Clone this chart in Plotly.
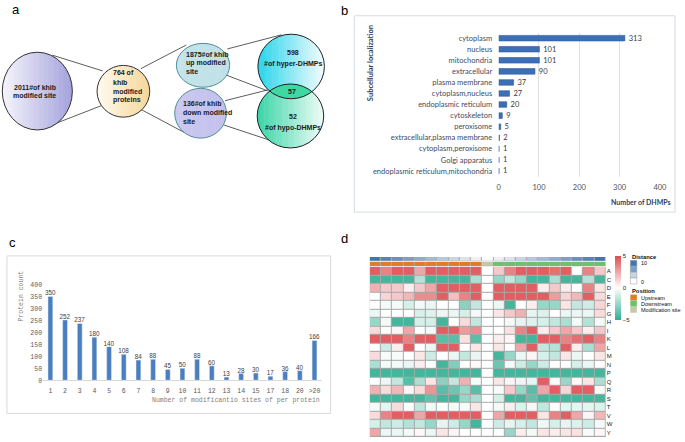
import math
import plotly.graph_objects as go

W, H = 685, 442

# ---------------- data ----------------
# panel a (flow / venn numbers)
khib_sites_total = 2011
khib_proteins = 764
khib_up_sites = 1875
khib_down_sites = 136
hyper_dhmps = 598
overlap_dhmps = 57
hypo_dhmps = 52

# panel b
localizations = ["cytoplasm", "nucleus", "mitochondria", "extracellular", "plasma membrane",
                 "cytoplasm,nucleus", "endoplasmic reticulum", "cytoskeleton", "peroxisome",
                 "extracellular,plasma membrane", "cytoplasm,peroxisome", "Golgi apparatus",
                 "endoplasmic reticulum,mitochondria"]
dhmp_counts = [313, 101, 101, 90, 37, 27, 20, 9, 5, 2, 1, 1, 1]
b_ticks = [0, 100, 200, 300, 400]

# panel c
site_bins = ["1", "2", "3", "4", "5", "6", "7", "8", "9", "10", "11", "12", "13", "14", "15",
             "17", "18", "20", ">20"]
protein_counts = [350, 252, 237, 180, 140, 108, 84, 88, 45, 50, 88, 60, 13, 28, 30, 17, 36, 40, 166]
c_ticks = [0, 50, 100, 150, 200, 250, 300, 350, 400]

# panel d
residues = ["A", "C", "D", "E", "F", "G", "H", "I", "K", "L", "M", "N", "P", "Q", "R", "S", "T", "V", "W", "Y"]
column_ids = [-10, -9, -8, -7, -6, -5, -4, -3, -2, -1, 0, 1, 2, 3, 4, 5, 6, 7, 8, 9, 10]
distances = [10, 9, 8, 7, 6, 5, 4, 3, 2, 1, 0, 1, 2, 3, 4, 5, 6, 7, 8, 9, 10]
position_codes = [0, 0, 0, 0, 0, 0, 0, 0, 0, 0, 1, 2, 2, 2, 2, 2, 2, 2, 2, 2, 2]
position_names = ["Upstream", "Modification site", "Downstream"]
heat_values = [
    [4.5, 3.5, 4.5, 4.5, 2.5, 4.5, 4.5, 4.5, 4.5, 4.5, 0, 1.5, 3.5, 4.5, 4.5, 4.5, 4.0, 4.5, 0.0, 3.5, 1.5],
    [-4.5, -4.5, -4.5, -4.5, -1.8, -4.5, -4.5, -4.5, -4.5, -2.0, 0, -2.5, -1.5, -2.5, -4.5, -4.5, -2.0, -4.5, -4.5, -1.8, -4.5],
    [2.2, 1.5, 1.5, 0.5, 1.5, 2.5, 4.5, 4.5, 4.5, 4.5, 0, 4.5, 4.5, 4.5, 4.5, 0.5, 1.5, 0.5, 0.0, 3.5, 0.7],
    [0.0, 1.2, 1.5, 2.0, 3.2, 3.2, 4.5, 1.8, 3.5, 4.5, 0, 4.5, 4.5, 4.5, 4.5, 4.5, 2.8, 1.2, 2.0, 4.5, 1.0],
    [0.0, -0.3, -0.3, -1.0, -0.3, -0.5, 0.0, 0.0, -2.8, -1.5, 0, -0.5, -4.5, 0.0, 0.5, -2.5, -2.5, 0.7, -1.5, -1.2, 1.2],
    [-0.5, 0.0, 0.0, 0.0, -1.0, -0.8, -0.5, -0.5, -1.0, -0.3, 0, 0.7, 1.5, 2.2, -0.6, -0.8, 0.0, -0.5, -0.5, -0.5, 1.0],
    [-2.5, -0.3, -4.5, -4.5, -1.0, -1.0, -4.5, 0.0, 1.0, -1.5, 0, 0.0, -0.3, -0.6, -0.8, -1.0, -1.5, -2.0, -0.3, -1.8, -0.3],
    [1.0, 0.0, 0.3, 2.5, 0.0, -0.3, 4.5, 4.5, 2.8, 3.2, 0, 0.0, 0.8, 3.5, 4.5, 0.5, 1.5, 2.5, 1.5, 0.5, 1.5],
    [4.5, 4.5, 4.5, 3.5, 4.5, 4.5, -4.0, -4.0, 0.8, -4.0, 0, 0.5, 0.3, -4.5, -4.5, 4.5, 4.5, 3.5, 4.0, 4.5, 3.5],
    [0.0, -1.2, 0.5, 4.5, 0.0, -0.5, 4.5, 4.5, 0.0, 0.7, 0, 0.7, 0.0, 2.5, 4.5, -1.5, -1.8, 4.5, 0.5, -2.0, 2.5],
    [1.0, -0.2, -0.2, 0.0, 0.7, -1.2, 0.0, -0.5, -1.5, -0.5, 0, -4.5, -2.5, -0.5, 0.3, -1.0, -1.5, 0.7, -0.5, 0.0, 0.7],
    [-2.0, -0.3, -0.3, -0.5, 0.5, 0.0, -4.5, -3.0, 0.0, 0.2, 0, -3.5, -0.3, -1.2, -2.5, -1.2, 0.0, 0.0, -1.0, -0.5, 0.0],
    [-4.5, -4.5, -4.5, -4.5, -4.5, -4.5, -4.5, -4.5, -4.5, -4.5, 0, -4.5, -4.5, -4.5, -4.5, -4.5, -4.5, -4.5, -4.5, -4.5, -4.5],
    [0.0, -0.5, -1.5, -4.0, -2.0, 0.7, -2.8, -1.5, 2.2, -0.2, 0, 0.7, 0.3, -0.5, -0.6, 4.5, 0.2, -2.5, 0.2, 0.7, -2.0],
    [2.2, 1.0, 2.0, 0.3, 1.0, 3.0, -4.0, -3.5, -2.5, -4.0, 0, -0.2, 1.5, -2.5, -4.0, 2.5, 4.5, 1.2, 4.5, 4.5, 0.2],
    [-4.5, -4.5, -4.5, -4.5, -4.5, -3.8, -4.5, -4.5, -2.5, -2.0, 0, -1.0, -4.5, -4.5, -3.8, -4.5, -4.5, -4.5, -4.5, -4.5, -4.5],
    [-0.3, -0.6, 1.0, 0.0, -1.5, -0.3, 0.0, -0.3, -0.2, 0.7, 0, -0.3, 0.5, -0.8, 0.3, -1.5, 0.0, -0.6, -0.6, -0.6, -0.8],
    [1.0, 3.5, 4.5, 4.5, 2.5, 4.5, 4.5, 4.5, 4.5, 4.5, 0, 2.5, 4.5, 4.5, 4.5, 0.7, 3.5, 4.5, 2.5, 0.3, 2.0],
    [-1.0, -1.5, -1.2, -1.8, -1.5, -2.5, -0.6, -1.2, -2.5, -4.5, 0, -1.2, -0.6, -1.0, -1.5, -0.4, -1.0, -0.6, -0.8, -1.2, -0.3],
    [2.5, -0.5, -0.5, -0.3, 0.2, -0.5, 0.7, 0.3, 0.0, 0.0, 0, 0.0, -2.5, 0.5, -0.3, 0.7, 0.5, 0.7, 0.8, -0.2, 0.2],
]

# ---------------- helpers ----------------
def px(x):
    return x / W


def py(y):
    return 1 - y / H


def hex2rgb(h):
    h = h.lstrip('#')
    return tuple(int(h[i:i + 2], 16) for i in (0, 2, 4))


def lerp(c0, c1, t):
    a, b = hex2rgb(c0), hex2rgb(c1)
    return 'rgb(%d,%d,%d)' % tuple(round(a[i] + (b[i] - a[i]) * t) for i in range(3))


def path_of(points):
    return 'M ' + ' L '.join('%.5f,%.5f' % (px(x), py(y)) for x, y in points) + ' Z'


def ellipse_fill(cx, cy, rx, ry, c0, c1, n=28):
    out = []
    for i in range(n):
        xa = cx - rx + 2 * rx * i / n
        xb = min(cx + rx, cx - rx + 2 * rx * (i + 1) / n + 0.5)
        top, bot = [], []
        for k in range(7):
            x = xa + (xb - xa) * k / 6
            d = ry * math.sqrt(max(0.0, 1 - ((x - cx) / rx) ** 2))
            top.append((x, cy - d))
            bot.append((x, cy + d))
        out.append(dict(type='path', xref='paper', yref='paper', path=path_of(top + bot[::-1]),
                        fillcolor=lerp(c0, c1, (i + 0.5) / n), line=dict(width=0)))
    return out


def ellipse_outline(cx, cy, rx, ry, color, width=1):
    return dict(type='circle', xref='paper', yref='paper', x0=px(cx - rx), x1=px(cx + rx),
                y0=py(cy + ry), y1=py(cy - ry), line=dict(color=color, width=width),
                fillcolor='rgba(0,0,0,0)')


def seg(x0, y0, x1, y1, color='#333333', width=0.8):
    return dict(type='line', xref='paper', yref='paper', x0=px(x0), y0=py(y0), x1=px(x1), y1=py(y1),
                line=dict(color=color, width=width))


shapes = []
ann = []

# ---------------- panel a ----------------
for s in [(51, 53, 102, 69), (43.3, 126.7, 103.3, 103.3), (140.7, 66.7, 186.7, 42.7),
          (139.3, 107.3, 185, 131.7), (228.3, 46.7, 283.3, 32.3), (227.3, 73.3, 269.3, 89.3),
          (226, 99.3, 269.3, 88.3), (225, 124, 278.3, 141.7)]:
    shapes.append(seg(*s))

big = (35.8, 89.5, 35.5, 39.5)
yel = (123, 89.7, 26.7, 26.3)
upc = (203.7, 63.3, 27, 22.3)
dnc = (201.2, 112, 26.2, 25.3)
hyp = (293, 64.5, 33.7, 32.8)
hpo = (292.3, 114.8, 33.7, 32.5)

shapes += ellipse_fill(*big, '#f6f6fc', '#a3a1dc')
shapes.append(ellipse_outline(*big, '#333333'))
shapes += ellipse_fill(*yel, '#fffaf0', '#f5d697')
shapes.append(ellipse_outline(*yel, '#333333'))
shapes += ellipse_fill(*upc, '#c4e4ea', '#bfe0e6')
shapes.append(ellipse_outline(*upc, '#4f8f98'))
shapes += ellipse_fill(*dnc, '#cac8f0', '#c3c1ec')
shapes.append(ellipse_outline(*dnc, '#4f8f98'))
shapes += ellipse_fill(*hyp, '#28d4ea', '#f4fdfe')
shapes += ellipse_fill(*hpo, '#38d5a6', '#f0fcf7')
# lens (overlap) region
cx1, cy1, rx1, ry1 = hyp
cx2, cy2, rx2, ry2 = hpo
upper, lower = [], []
xs = [min(cx1, cx2) - 34 + i * 0.25 for i in range(int(68 / 0.25) + 1)]
for x in xs:
    t1 = 1 - ((x - cx1) / rx1) ** 2
    t2 = 1 - ((x - cx2) / rx2) ** 2
    if t1 <= 0 or t2 <= 0:
        continue
    ya = cy1 + ry1 * math.sqrt(t1)
    yb = cy2 - ry2 * math.sqrt(t2)
    if yb < ya:
        upper.append((x, yb))
        lower.append((x, ya))
shapes.append(dict(type='path', xref='paper', yref='paper', path=path_of(upper + lower[::-1]),
                   fillcolor='#3fd8a4', line=dict(width=0)))
shapes.append(ellipse_outline(*hyp, '#222222'))
shapes.append(ellipse_outline(*hpo, '#222222'))

CF = "Liberation Sans Narrow, Liberation Sans, Arial"


def txt(x, y, s, size=6.5, bold=True, align='center', xanchor='center', color='#1a1a1a', family=CF,
        angle=0, yanchor='middle'):
    if bold:
        s = '<b>' + s + '</b>'
    ann.append(dict(x=px(x), y=py(y), xref='paper', yref='paper', text=s, showarrow=False,
                    xanchor=xanchor, yanchor=yanchor, align=align, textangle=angle,
                    font=dict(family=family, size=size, color=color)))


txt(33, 86, '%d#of khib' % khib_sites_total, size=7)
txt(33, 94, 'modified site', size=7)
for i, s in enumerate(['%d of' % khib_proteins, 'khib', 'modified', 'proteins']):
    txt(110, 71 + i * 9.3, s, size=7, xanchor='left')
for i, s in enumerate(['%d#of khib' % khib_up_sites, 'up modified', 'site']):
    txt(184, 52 + i * 8.7, s, size=7, xanchor='left')
for i, s in enumerate(['%d#of khib' % khib_down_sites, 'down modified', 'site']):
    txt(181.5, 102.5 + i * 8.8, s, size=7, xanchor='left')
txt(295, 50, str(hyper_dhmps), size=7)
txt(295, 61.7, '#of hyper-DHMPs', size=7)
txt(293.5, 89.5, str(overlap_dhmps), size=7)
txt(295, 115.7, str(hypo_dhmps), size=7)
txt(295, 127, '#of hypo-DHMPs', size=7)

# panel letters
LF = "Liberation Sans, Arial"
txt(13.7, 6.3, 'a', size=13, bold=False, family=LF, color='#000')
txt(346.7, 7.5, 'b', size=13, bold=False, family=LF, color='#000')
txt(11, 243, 'c', size=13, bold=False, family=LF, color='#000')
txt(347, 239.5, 'd', size=13, bold=False, family=LF, color='#000')

# ---------------- panel b ----------------
shapes.append(dict(type='rect', xref='paper', yref='paper', x0=px(357), x1=px(682), y0=py(212.5), y1=py(13),
                   line=dict(color='#d3dae6', width=1), fillcolor='rgba(0,0,0,0)'))
BF = "Lato, Carlito, Open Sans"
fig = go.Figure()
fig.add_trace(go.Bar(
    x=dhmp_counts, y=localizations, orientation='h', xaxis='x', yaxis='y',
    marker=dict(color='#3d6fb6', line=dict(color='#2d5a9c', width=0.6)), width=0.5,
    text=['\u00a0\u00a0' + str(v) for v in dhmp_counts], textposition='outside', cliponaxis=False,
    constraintext='none',
    textfont=dict(family=BF, size=7.5, color='#3a3a3a'), showlegend=False, hoverinfo='skip'))
txt(373, 61, 'Subcellular localization', size=7.5, family=BF, color='#2a3f66', angle=-90)
txt(648, 202, 'Number of DHMPs', size=7, family=BF, color='#2a3f66')

# ---------------- panel c ----------------
shapes.append(dict(type='rect', xref='paper', yref='paper', x0=px(5), x1=px(333), y0=py(417), y1=py(257),
                   line=dict(color='#d9d9d9', width=1), fillcolor='rgba(0,0,0,0)'))
MF = "Liberation Mono, DejaVu Sans Mono, monospace"
fig.add_trace(go.Bar(
    x=site_bins, y=protein_counts, xaxis='x2', yaxis='y2',
    marker=dict(color='#4a7ebf'), width=0.33,
    text=[str(v) for v in protein_counts], textposition='outside', cliponaxis=False, constraintext='none',
    textfont=dict(family="Liberation Sans, Arial", size=6.3, color='#404040'),
    showlegend=False, hoverinfo='skip'))
txt(20, 297.5, 'Protein count', size=6.5, bold=False, family=MF, color='#808080', angle=-90)
txt(237.5, 404, 'Number of modificantio sites of per protein', size=6.5, bold=False, family=MF,
    color='#808080')

# ---------------- panel d ----------------
RED, TEAL = '#df4c50', '#2fae91'
fig.add_trace(go.Heatmap(
    z=heat_values, x=column_ids, y=residues, xaxis='x3', yaxis='y3', xgap=1, ygap=1,
    zmin=-5, zmax=5, colorscale=[[0, TEAL], [0.5, '#ffffff'], [1, RED]],
    colorbar=dict(x=px(621), xanchor='left', y=py(256.7), yanchor='top', len=65 / H, lenmode='fraction',
                  thickness=6, thicknessmode='pixels', outlinewidth=0, xpad=0, ypad=0,
                  tickvals=[-5, 0, 5], ticktext=['\u22125', '0', '5'], ticks='',
                  tickfont=dict(family="Liberation Sans, Arial", size=6, color='#222')),
    hoverinfo='skip'))
fig.add_trace(go.Heatmap(
    z=[position_codes], x=column_ids, y=['Position'], xaxis='x3', yaxis='y4', xgap=1, ygap=0,
    zmin=0, zmax=2, showscale=False,
    colorscale=[[0, '#e07b2a'], [0.333, '#e07b2a'], [0.333, '#c6c9a8'], [0.667, '#c6c9a8'],
                [0.667, '#6cc16c'], [1, '#6cc16c']], hoverinfo='skip'))
DIST_SCALE = [[0, '#ffffff'], [1, '#3e77b5']]
fig.add_trace(go.Heatmap(
    z=[distances], x=column_ids, y=['Distance'], xaxis='x3', yaxis='y5', xgap=1, ygap=0,
    zmin=0, zmax=10, showscale=False, colorscale=DIST_SCALE, hoverinfo='skip'))

for yr in ['y3', 'y4', 'y5']:
    shapes.append(dict(type='rect', xref='x3 domain', yref=yr + ' domain', x0=0, x1=1, y0=0, y1=1,
                       fillcolor='#a8a8a8', line=dict(width=0), layer='below'))

# legends for annotation rows
LGF = "Liberation Sans, Arial"
txt(636.5, 257.8, 'Distance', size=5.8, family=LGF, xanchor='left', color='#111')
dist_legend = [10, 7, 3, 0]
for i, d in enumerate(dist_legend):
    shapes.append(dict(type='rect', xref='paper', yref='paper', x0=px(636.7), x1=px(643.3),
                       y0=py(261.5 + (i + 1) * 6), y1=py(261.5 + i * 6),
                       fillcolor=lerp('#ffffff', '#3e77b5', d / 10), line=dict(color='#9a9a9a', width=0.5)))
txt(645, 264.3, '10', size=5.5, bold=False, family=LGF, xanchor='left', color='#111')
txt(645, 283, '0', size=5.5, bold=False, family=LGF, xanchor='left', color='#111')
txt(636.5, 292.8, 'Position', size=5.8, family=LGF, xanchor='left', color='#111')
pos_colors = {'Upstream': '#e07b2a', 'Downstream': '#6cc16c', 'Modification site': '#c6c9a8'}
for i, name in enumerate(['Upstream', 'Downstream', 'Modification site']):
    y0 = 296.3 + i * 6.2
    shapes.append(dict(type='rect', xref='paper', yref='paper', x0=px(636.7), x1=px(643.3),
                       y0=py(y0 + 6), y1=py(y0), fillcolor=pos_colors[name], line=dict(width=0)))
    txt(645, y0 + 3, name, size=5.5, bold=False, family=LGF, xanchor='left', color='#111')

fig.update_layout(
    width=W, height=H, autosize=False, margin=dict(l=0, r=0, t=0, b=0),
    paper_bgcolor='white', plot_bgcolor='rgba(0,0,0,0)', showlegend=False,
    shapes=shapes, annotations=ann,
    xaxis=dict(domain=[px(503.3), px(666.7)], anchor='y', range=[0, 400], tickvals=b_ticks,
               showgrid=True, gridcolor='#d9d9d9', gridwidth=0.8, zeroline=False, showline=False,
               ticks='outside', ticklen=3, tickcolor='rgba(0,0,0,0)',
               tickfont=dict(family=BF, size=7.5, color='#555555'), fixedrange=True),
    yaxis=dict(domain=[py(176.3), py(30.1)], anchor='x', type='category', categoryorder='array',
               categoryarray=localizations, autorange='reversed', showgrid=False, zeroline=False,
               ticks='outside', ticklen=4, tickcolor='rgba(0,0,0,0)',
               tickfont=dict(family=BF, size=7.5, color='#3f4a5e'), fixedrange=True),
    xaxis2=dict(domain=[px(41.6), px(324.1)], anchor='y2', type='category', showgrid=False,
                showline=True, linecolor='#d9d9d9', linewidth=1, zeroline=False,
                ticks='outside', ticklen=4, tickcolor='rgba(0,0,0,0)',
                tickfont=dict(family=MF, size=6.5, color='#595959'), fixedrange=True),
    yaxis2=dict(domain=[py(383.3), py(286)], anchor='x2', range=[0, 400], tickvals=c_ticks,
                showgrid=False, zeroline=False, showline=False,
                tickfont=dict(family=MF, size=6.5, color='#595959'), fixedrange=True),
    xaxis3=dict(domain=[px(372.7), px(611.7)], anchor='y3', range=[-10.5, 10.5], showgrid=False,
                zeroline=False, showticklabels=False, ticks='', fixedrange=True),
    yaxis3=dict(domain=[py(441), py(268)], anchor='x3', type='category', categoryorder='array',
                categoryarray=residues, autorange='reversed', side='right', showgrid=False,
                zeroline=False, ticks='', tickfont=dict(family=LGF, size=6, color='#222'), fixedrange=True),
    yaxis4=dict(domain=[py(267.3), py(263)], anchor='x3', showticklabels=False, showgrid=False,
                zeroline=False, fixedrange=True),
    yaxis5=dict(domain=[py(262), py(258)], anchor='x3', showticklabels=False, showgrid=False,
                zeroline=False, fixedrange=True),
)

fig.write_html("out.html", config={'displayModeBar': False, 'staticPlot': True},
               post_script="document.body.style.margin='0';document.body.style.padding='0';")
